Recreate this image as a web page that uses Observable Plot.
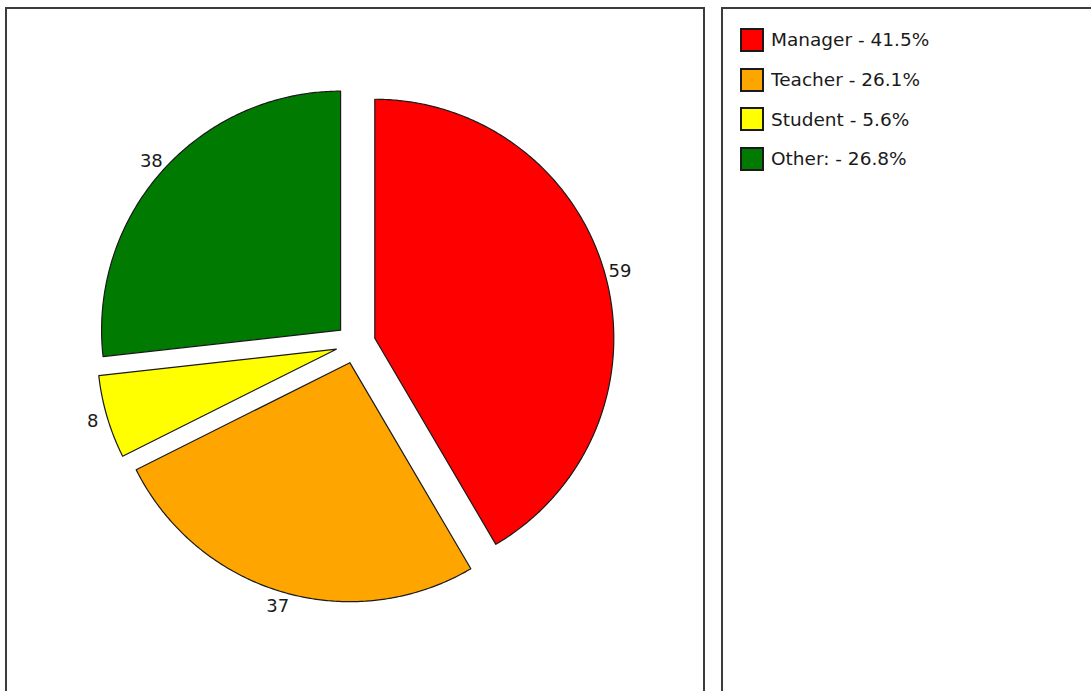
<!DOCTYPE html>
<html>
<head>
<meta charset="utf-8">
<script src="https://cdn.jsdelivr.net/npm/d3@7"></script>
<script src="https://cdn.jsdelivr.net/npm/@observablehq/plot@0.6"></script>
<style>
  html, body { margin: 0; padding: 0; background: #fff; }
  #wrap { position: relative; width: 1091px; height: 691px; overflow: hidden; background: #fff; font-family: "DejaVu Sans", sans-serif; }
  .panel { position: absolute; box-sizing: border-box; border: 2px solid #3c3c3c; background: #fff; }
  #left { left: 5px; top: 7px; width: 700px; height: 720px; }
  #right { left: 721px; top: 7px; width: 420px; height: 720px; padding: 11px 0 0 18px; }
  #chart { position: absolute; left: 0; top: 0; }
  #legend .lg-swatch { height: 39.7px; padding: 0; display: flex; align-items: center; }
  #legend .lg-swatch > svg { overflow: visible; margin-right: 8px; }
  #legend .lg-swatch > svg rect { stroke: #1a1a1a; stroke-width: 2px; }
  #legend .lg-label { color: #1a1a1a; }
</style>
</head>
<body>
<div id="wrap">
  <div class="panel" id="left"></div>
  <div class="panel" id="right"><div id="legend"></div></div>
  <div id="chart"></div>
</div>
<script>
// ---- data ----
const categories = ["Manager", "Teacher", "Student", "Other:"];
const values = [59, 37, 8, 38];
const colors = ["#ff0000", "#ffa500", "#ffff00", "#007a00"];

// ---- layout (pixels) ----
const W = 1091, H = 691;
const CX = 355, CY = 343, R = 239;   // pie centre and radius
const EXPLODE = 20 / R;              // explode distance in radius units
const LABEL_R = 274 / R;             // label distance in radius units

const total = d3.sum(values);
const arcs = d3.pie().sort(null).value(d => d)(values);

// polygon outline for every slice, in radius units (y up)
const slicePoints = [];
const labelRows = [];
arcs.forEach((a, i) => {
  const name = categories[i];
  const mid = (a.startAngle + a.endAngle) / 2;
  const ox = EXPLODE * Math.sin(mid), oy = EXPLODE * Math.cos(mid);
  slicePoints.push({name, x: ox, y: oy});
  const steps = Math.max(8, Math.ceil((a.endAngle - a.startAngle) / (Math.PI / 360)));
  for (let k = 0; k <= steps; k++) {
    const t = a.startAngle + (a.endAngle - a.startAngle) * k / steps;
    slicePoints.push({name, x: ox + Math.sin(t), y: oy + Math.cos(t)});
  }
  labelRows.push({name, value: values[i], x: LABEL_R * Math.sin(mid), y: LABEL_R * Math.cos(mid)});
});

const color = {domain: categories, range: colors};

const chart = Plot.plot({
  width: W,
  height: H,
  margin: 0,
  style: {background: "transparent", overflow: "visible"},
  x: {domain: [-CX / R, (W - CX) / R], axis: null},
  y: {domain: [-(H - CY) / R, CY / R], axis: null},
  color,
  marks: [
    Plot.line(slicePoints, {
      x: "x", y: "y", z: "name", fill: "name",
      stroke: "#1a1a1a", strokeWidth: 1.2, curve: "linear-closed"
    }),
    Plot.text(labelRows, {
      x: "x", y: "y", text: d => String(d.value),
      fontFamily: "DejaVu Sans", fontSize: 18, fill: "#1a1a1a",
      textAnchor: "middle", lineAnchor: "middle"
    })
  ]
});
document.getElementById("chart").appendChild(chart);

const legend = Plot.legend({
  color: {...color, type: "ordinal"},
  legend: "swatches",
  columns: 1,
  swatchSize: 22,
  className: "lg",
  tickFormat: name => `${name} - ${(values[categories.indexOf(name)] / total * 100).toFixed(1)}%`,
  style: {fontFamily: "DejaVu Sans", fontSize: "18.5px", color: "#1a1a1a", background: "transparent"}
});
document.getElementById("legend").appendChild(legend);
</script>
</body>
</html>
